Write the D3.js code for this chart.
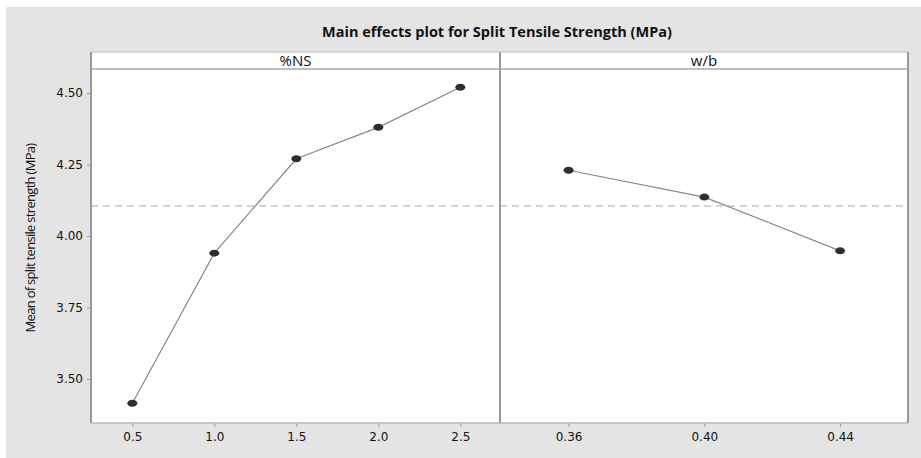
<!DOCTYPE html>
<html>
<head>
<meta charset="utf-8">
<script src="https://cdn.jsdelivr.net/npm/d3@7"></script>
<style>
  body { margin: 0; background: #fff; }
  .tick line { stroke: #999; }
  .domain { display: none; }
</style>
</head>
<body>
<div id="chart"></div>
<script>

// factor levels and their means
var nsLevels = [0.5, 1.0, 1.5, 2.0, 2.5];
var nsMeans = [3.415, 3.94, 4.27, 4.38, 4.52];
var wbLevels = [0.36, 0.40, 0.44];
var wbMeans = [4.23, 4.136, 3.948];
var yTicks = [3.50, 3.75, 4.00, 4.25, 4.50];
var grandMean = 4.105;

var W = 921, H = 458;

var panel = { left: 91, top: 52, strip: 17, bottom: 423, mid: 500, right: 908 };

var svg = d3.select("#chart").append("svg")
    .attr("width", W)
    .attr("height", H);

// grey backdrop
svg.append("rect")
    .attr("x", 6).attr("y", 7)
    .attr("width", W - 6).attr("height", H - 7)
    .attr("fill", "#e4e4e4");

svg.append("text")
    .attr("x", 497).attr("y", 37)
    .attr("text-anchor", "middle")
    .style("font-family", "'Open Sans', sans-serif")
    .style("font-weight", "bold")
    .style("font-size", "14.5px")
    .style("fill", "#111")
    .text("Main effects plot for Split Tensile Strength (MPa)");

var plotTop = panel.top + panel.strip;

var y = d3.scaleLinear()
    .domain([3.346, 4.584])
    .range([panel.bottom, plotTop]);

var panels = [
  { name: "%NS", x0: panel.left, x1: panel.mid, levels: nsLevels, means: nsMeans,
    domain: [0.248, 2.742], fmt: d3.format(".1f") },
  { name: "w/b", x0: panel.mid, x1: panel.right, levels: wbLevels, means: wbMeans,
    domain: [0.3398, 0.46], fmt: d3.format(".2f") }
];

function styleTicks(g) {
  g.selectAll(".tick text")
      .style("font-family", "'DejaVu Sans', Verdana, sans-serif")
      .style("font-size", "12px")
      .style("fill", "#111");
}

// white plotting area + strip
svg.append("rect")
    .attr("x", panel.left).attr("y", panel.top)
    .attr("width", panel.right - panel.left)
    .attr("height", panel.bottom - panel.top)
    .attr("fill", "#fff");

panels.forEach(function (p) {
  var x = d3.scaleLinear().domain(p.domain).range([p.x0, p.x1]);

  // strip label
  svg.append("text")
      .attr("x", (p.x0 + p.x1) / 2)
      .attr("y", panel.top + 14)
      .attr("text-anchor", "middle")
      .style("font-family", "'Open Sans', sans-serif")
      .style("font-size", "15px")
      .style("fill", "#111")
      .text(p.name);

  // reference line at grand mean
  svg.append("line")
      .attr("x1", p.x0).attr("x2", p.x1)
      .attr("y1", y(grandMean)).attr("y2", y(grandMean))
      .attr("stroke", "#aaa")
      .attr("stroke-dasharray", "7,5");

  var pts = p.levels.map(function (d, i) { return { x: d, y: p.means[i] }; });

  var line = d3.line()
      .x(function (d) { return x(d.x); })
      .y(function (d) { return y(d.y); });

  svg.append("path")
      .datum(pts)
      .attr("d", line)
      .attr("fill", "none")
      .attr("stroke", "#888")
      .attr("stroke-width", 1.2);

  svg.selectAll(null)
      .data(pts).enter()
      .append("ellipse")
      .attr("cx", function (d) { return x(d.x); })
      .attr("cy", function (d) { return y(d.y); })
      .attr("rx", 5).attr("ry", 3.5)
      .attr("fill", "#2e2e2e");

  svg.append("g")
      .attr("transform", "translate(0," + panel.bottom + ")")
      .call(d3.axisBottom(x).tickValues(p.levels).tickFormat(p.fmt).tickSize(4).tickPadding(5))
      .call(styleTicks);
});

svg.append("g")
    .attr("transform", "translate(" + panel.left + ",0)")
    .call(d3.axisLeft(y).tickValues(yTicks).tickFormat(d3.format(".2f")).tickSize(4).tickPadding(4))
    .call(styleTicks);

// borders
svg.append("line").attr("x1", panel.left).attr("x2", panel.right)
    .attr("y1", panel.top).attr("y2", panel.top).attr("stroke", "#bbb");
svg.append("line").attr("x1", panel.left).attr("x2", panel.right)
    .attr("y1", plotTop).attr("y2", plotTop).attr("stroke", "#aaa").attr("stroke-width", 1.5);
svg.append("line").attr("x1", panel.left).attr("x2", panel.right)
    .attr("y1", panel.bottom).attr("y2", panel.bottom).attr("stroke", "#bbb").attr("stroke-width", 1.5);
[panel.left, panel.mid, panel.right].forEach(function (xv) {
  svg.append("line").attr("x1", xv).attr("x2", xv)
      .attr("y1", panel.top).attr("y2", panel.bottom)
      .attr("stroke", "#999").attr("stroke-width", 2);
});

svg.append("text")
    .attr("transform", "translate(35," + 238 + ") rotate(-90)")
    .attr("text-anchor", "middle")
    .style("font-family", "'Open Sans', sans-serif")
    .style("font-size", "13px")
    .style("letter-spacing", "-0.7px")
    .style("fill", "#111")
    .text("Mean of split tensile strength (MPa)");

</script>
</body>
</html>
